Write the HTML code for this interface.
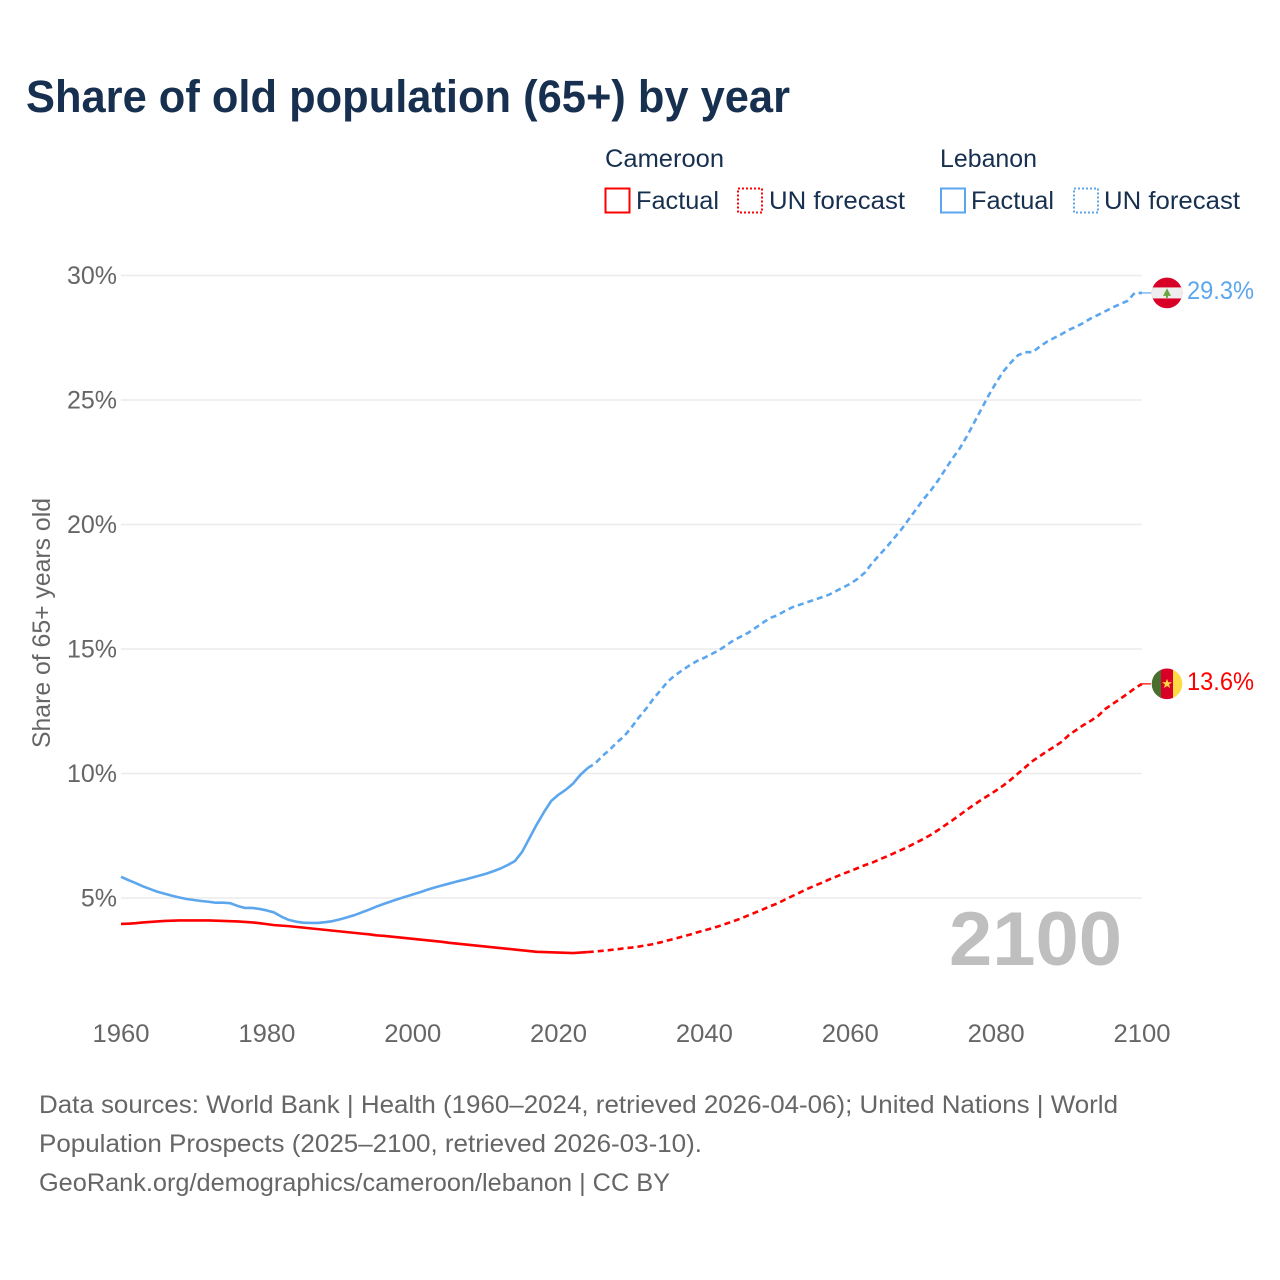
<!DOCTYPE html>
<html lang="en">
<head>
<meta charset="utf-8">
<title>Share of old population (65+) by year</title>
<style>
html,body{margin:0;padding:0;background:#fff;width:1280px;height:1280px;overflow:hidden}
svg{display:block}
text{font-family:"Liberation Sans",sans-serif}
</style>
</head>
<body>
<svg id="chart" xmlns="http://www.w3.org/2000/svg" width="1280" height="1280" viewBox="0 0 1280 1280">
  <rect width="1280" height="1280" fill="#ffffff"/>
  <text x="26" y="112" font-size="45" font-weight="700" fill="#17304f" textLength="764" lengthAdjust="spacingAndGlyphs">Share of old population (65+) by year</text>

  <g font-size="25" fill="#17304f">
    <text x="605" y="167" textLength="119" lengthAdjust="spacingAndGlyphs">Cameroon</text>
    <text x="940" y="167" textLength="97" lengthAdjust="spacingAndGlyphs">Lebanon</text>
    <rect x="605.5" y="188.5" width="24" height="24" fill="none" stroke="#ff0000" stroke-width="2"/>
    <text x="636" y="209" textLength="83" lengthAdjust="spacingAndGlyphs">Factual</text>
    <rect x="738" y="188.5" width="24" height="24" fill="none" stroke="#ff0000" stroke-width="2" stroke-dasharray="2 2"/>
    <text x="769" y="209" textLength="136" lengthAdjust="spacingAndGlyphs">UN forecast</text>
    <rect x="941" y="188.5" width="24" height="24" fill="none" stroke="#5ca6ee" stroke-width="2"/>
    <text x="971" y="209" textLength="83" lengthAdjust="spacingAndGlyphs">Factual</text>
    <rect x="1074" y="188.5" width="24" height="24" fill="none" stroke="#5ca6ee" stroke-width="2" stroke-dasharray="2 2"/>
    <text x="1104" y="209" textLength="136" lengthAdjust="spacingAndGlyphs">UN forecast</text>
  </g>

  <g id="grid"></g>
  <g id="yticks" font-size="25" fill="#666666"></g>
  <g id="xticks" font-size="25" fill="#666666"></g>
  <text transform="translate(50,748) rotate(-90)" font-size="25" fill="#666666" textLength="250" lengthAdjust="spacingAndGlyphs">Share of 65+ years old</text>
  <text x="949" y="965" font-size="76" font-weight="700" fill="#bfbfbf" textLength="173" lengthAdjust="spacingAndGlyphs">2100</text>

  <g id="series"></g>

  <g id="flag-lebanon">
    <clipPath id="clip-lb"><circle cx="0" cy="0" r="15.3"/></clipPath>
    <g clip-path="url(#clip-lb)">
      <rect x="-16" y="-16" width="32" height="32" fill="#d80027"/>
      <rect x="-16" y="-5.5" width="32" height="11" fill="#eeeeee"/>
      <polygon points="0,-4.5 4,3 1,3 1,5 -1,5 -1,3 -4,3" fill="#6da544"/>
    </g>
  </g>
  <g id="flag-cameroon">
    <clipPath id="clip-cm"><circle cx="0" cy="0" r="15.3"/></clipPath>
    <g clip-path="url(#clip-cm)">
      <rect x="-16" y="-16" width="10" height="32" fill="#496e2d"/>
      <rect x="-6" y="-16" width="12" height="32" fill="#d80027"/>
      <rect x="6" y="-16" width="10" height="32" fill="#ffda44"/>
      <polygon points="0,-5 1.3,-1.6 5,-1.6 2,0.7 3.1,4.2 0,2.1 -3.1,4.2 -2,0.7 -5,-1.6 -1.3,-1.6" fill="#ffda44"/>
    </g>
  </g>
  <g id="end-labels" font-size="25"></g>

  <g font-size="25" fill="#666666">
    <text x="39" y="1113" textLength="1079" lengthAdjust="spacingAndGlyphs">Data sources: World Bank | Health (1960–2024, retrieved 2026-04-06); United Nations | World</text>
    <text x="39" y="1152" textLength="663" lengthAdjust="spacingAndGlyphs">Population Prospects (2025–2100, retrieved 2026-03-10).</text>
    <text x="39" y="1191" textLength="631" lengthAdjust="spacingAndGlyphs">GeoRank.org/demographics/cameroon/lebanon | CC BY</text>
  </g>
</svg>
<script>
var xTickYears = [1960,1980,2000,2020,2040,2060,2080,2100];
var yTickValues = [5,10,15,20,25,30];
var factualStartYear = 1960;
var forecastStartYear = 2024;
var lebanonFactual = [
5.85,5.72,5.60,5.47,5.36,5.25,5.17,5.09,5.02,4.96,
4.92,4.88,4.85,4.81,4.81,4.79,4.68,4.60,4.60,4.56,
4.50,4.42,4.25,4.12,4.05,4.01,4.00,4.00,4.03,4.07,
4.14,4.22,4.31,4.42,4.53,4.65,4.76,4.86,4.96,5.05,
5.14,5.23,5.33,5.42,5.50,5.58,5.66,5.73,5.81,5.89,
5.97,6.07,6.18,6.32,6.48,6.85,7.40,7.95,8.45,8.90,
9.15,9.35,9.60,9.95,10.22];
var lebanonForecast = [
10.22,10.40,10.70,10.95,11.25,11.50,11.85,12.25,12.60,13.00,13.35,
13.70,13.95,14.15,14.35,14.52,14.65,14.80,14.95,15.15,15.35,
15.50,15.65,15.85,16.05,16.25,16.35,16.52,16.67,16.77,16.87,
16.97,17.07,17.17,17.32,17.47,17.62,17.82,18.07,18.45,18.78,
19.10,19.45,19.80,20.20,20.60,21.00,21.35,21.75,22.20,22.65,
23.05,23.55,24.10,24.65,25.20,25.70,26.15,26.50,26.80,26.92,
26.92,27.15,27.35,27.50,27.65,27.82,27.95,28.10,28.28,28.42,
28.57,28.72,28.85,28.98,29.30,29.30];
var cameroonFactual = [
3.96,3.97,3.99,4.02,4.04,4.06,4.08,4.09,4.10,4.10,
4.10,4.10,4.10,4.09,4.08,4.07,4.06,4.04,4.02,3.99,
3.95,3.91,3.89,3.87,3.84,3.81,3.78,3.75,3.72,3.69,
3.66,3.63,3.60,3.57,3.54,3.50,3.48,3.45,3.42,3.39,
3.36,3.33,3.30,3.27,3.24,3.20,3.17,3.14,3.11,3.08,
3.05,3.02,2.99,2.96,2.93,2.90,2.87,2.84,2.83,2.82,
2.81,2.80,2.79,2.81,2.83];
var cameroonForecast = [
2.83,2.85,2.88,2.91,2.94,2.98,3.01,3.05,3.10,3.15,3.22,
3.30,3.37,3.45,3.53,3.62,3.70,3.78,3.87,3.97,4.07,
4.18,4.30,4.42,4.54,4.67,4.78,4.93,5.07,5.21,5.35,
5.48,5.60,5.73,5.85,5.97,6.08,6.20,6.32,6.42,6.55,
6.67,6.80,6.93,7.07,7.22,7.37,7.53,7.72,7.92,8.12,
8.33,8.55,8.75,8.95,9.13,9.32,9.52,9.75,10.00,10.25,
10.50,10.70,10.90,11.08,11.28,11.55,11.75,11.95,12.12,12.32,
12.60,12.80,13.00,13.20,13.42,13.60];

var NS = 'http://www.w3.org/2000/svg';
var RED = '#ff0000';
var BLUE = '#5ca6ee';
function xScale(year){ return 121 + (year - 1960) * (1142 - 121) / 140; }
function yScale(v){ return 898 - (v - 5) * (898 - 275.5) / 25; }
function svgEl(tag, parentId){
  var el = document.createElementNS(NS, tag);
  document.getElementById(parentId).appendChild(el);
  return el;
}
function pathFrom(startYear, values){
  var d = '';
  for (var i = 0; i < values.length; i++) {
    d += (i ? 'L' : 'M') + xScale(startYear + i).toFixed(2) + ' ' + yScale(values[i]).toFixed(2);
  }
  return d;
}

yTickValues.forEach(function(v){
  var line = svgEl('line', 'grid');
  
  
  line.setAttribute('x1', xScale(1960));
  line.setAttribute('x2', xScale(2100));
  line.setAttribute('y1', yScale(v));
  line.setAttribute('y2', yScale(v));
  line.setAttribute('stroke', '#ebebeb');
  line.setAttribute('stroke-width', '1.5');

  var t = svgEl('text', 'yticks');
  
  
  t.setAttribute('x', 117);
  t.setAttribute('y', yScale(v) + 8.5);
  t.setAttribute('text-anchor', 'end');
  t.textContent = v + '%';
});

xTickYears.forEach(function(year){
  var t = svgEl('text', 'xticks');
  
  
  t.setAttribute('x', xScale(year) - 28.5);
  t.setAttribute('y', 1042);
  t.setAttribute('textLength', '57');
  t.setAttribute('lengthAdjust', 'spacingAndGlyphs');
  t.textContent = year;
});

function drawSeries(name, color, factual, forecast){
  var solid = svgEl('path', 'series');
  
  
  solid.setAttribute('d', pathFrom(factualStartYear, factual));
  solid.setAttribute('fill', 'none');
  solid.setAttribute('stroke', color);
  solid.setAttribute('stroke-width', '2.6');
  solid.setAttribute('stroke-linejoin', 'round');

  var dashed = svgEl('path', 'series');
  
  
  dashed.setAttribute('d', pathFrom(forecastStartYear, forecast));
  dashed.setAttribute('fill', 'none');
  dashed.setAttribute('stroke', color);
  dashed.setAttribute('stroke-width', '2.6');
  dashed.setAttribute('stroke-dasharray', '6 4');

  var last = forecast[forecast.length - 1];
  var ly = yScale(last);

  var conn = svgEl('line', 'series');
  
  
  conn.setAttribute('x1', xScale(2100));
  conn.setAttribute('x2', xScale(2100) + 9);
  conn.setAttribute('y1', ly);
  conn.setAttribute('y2', ly);
  conn.setAttribute('stroke', color);
  conn.setAttribute('stroke-width', '1.2');

  document.getElementById('flag-' + name).setAttribute('transform', 'translate(1167,' + ly + ')');

  var label = svgEl('text', 'end-labels');
  
  
  label.setAttribute('x', 1187);
  label.setAttribute('y', ly + 6);
  label.setAttribute('fill', color);
  label.setAttribute('textLength', '67');
  label.setAttribute('lengthAdjust', 'spacingAndGlyphs');
  label.textContent = last.toFixed(1) + '%';
}
drawSeries('cameroon', RED, cameroonFactual, cameroonForecast);
drawSeries('lebanon', BLUE, lebanonFactual, lebanonForecast);
</script>
</body>
</html>
